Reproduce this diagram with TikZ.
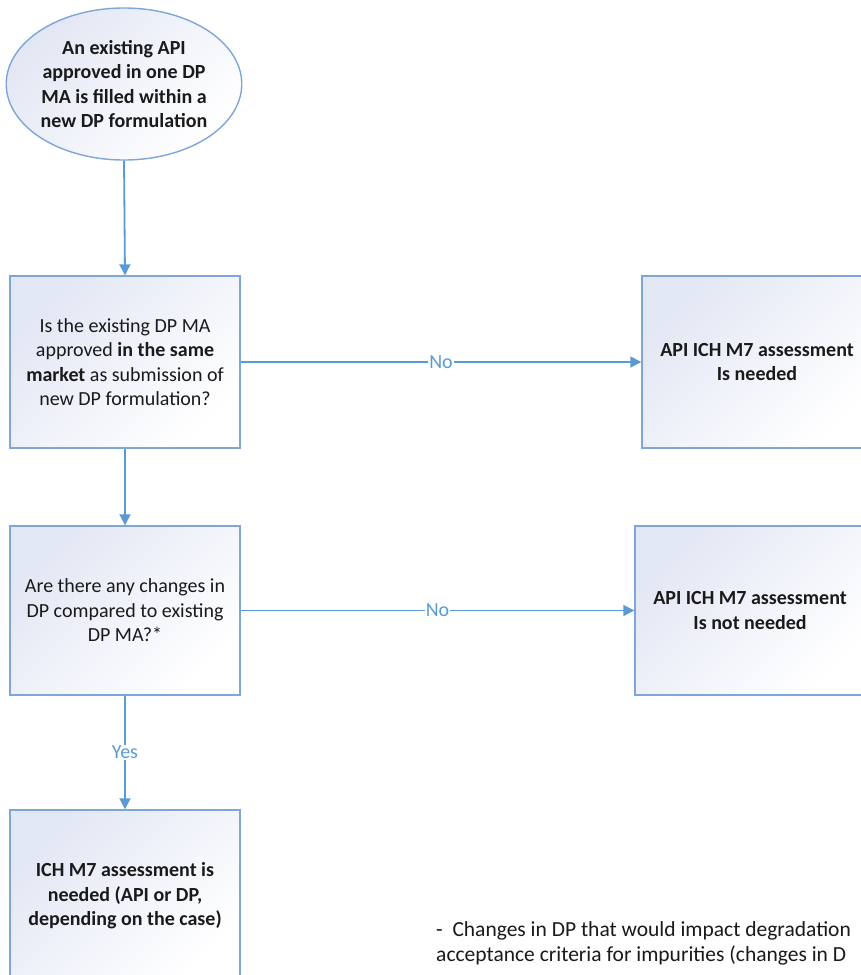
\documentclass[tikz,border=0pt]{standalone}
\usepackage{fontspec}
\setmainfont{Carlito}
\usetikzlibrary{arrows.meta,shapes.geometric}
\definecolor{lineblue}{HTML}{5B9BD5}
\definecolor{boxedge}{HTML}{7EA6D8}
\definecolor{boxfill}{HTML}{E2E7F4}
\definecolor{txt}{HTML}{1A1A1A}
\tikzset{
  flowbox/.style={draw=boxedge, line width=1.4pt, rectangle, minimum width=230pt,
    minimum height=172pt, align=center, inner sep=0pt, text=txt,
    font=\fontsize{20}{24.5}\selectfont,
    left color=boxfill, right color=white, shading angle=45},
  startell/.style={draw=boxedge, line width=1.4pt, ellipse, minimum width=230pt,
    minimum height=152pt, inner sep=0pt, align=center, text=txt,
    font=\bfseries\fontsize{20}{24.5}\selectfont,
    left color=boxfill, right color=white, shading angle=45},
  conn/.style={draw=lineblue, line width=1.8pt, -{Triangle[length=11pt,width=11pt]}},
  lbl/.style={fill=white, text=lineblue, inner sep=1pt, font=\fontsize{20}{22}\selectfont},
}
\begin{document}
\begin{tikzpicture}[x=1pt,y=-1pt]
\useasboundingbox (0,0) rectangle (861,975);
\clip (0,0) rectangle (861,975);
\fill[white] (0,0) rectangle (861,975);
\node[startell] (start) at (124,84) {An existing API\\approved in one DP\\MA is filled within a\\new DP formulation};
\node[flowbox] (q1) at (125,362) {Is the existing DP MA\\approved \textbf{in the same}\\\textbf{market} as submission of\\new DP formulation?};
\node[flowbox] (r1) at (757,362) {\textbf{API ICH M7 assessment}\\\textbf{Is needed}};
\node[flowbox, minimum height=169pt] (q2) at (125,610.5) {Are there any changes in\\DP compared to existing\\DP MA?*};
\node[flowbox, minimum height=169pt] (r2) at (750,610.5) {\textbf{API ICH M7 assessment}\\\textbf{Is not needed}};
\node[flowbox] (r3) at (125,896) {\textbf{ICH M7 assessment is}\\\textbf{needed (API or DP,}\\\textbf{depending on the case)}};
\node[anchor=north west, align=left, text=txt, inner sep=0pt, font=\fontsize{21.5}{25}\selectfont] (note) at (436,921) {-\ \ Changes in DP that would impact degradation\\acceptance criteria for impurities (changes in D};
\draw[conn] (start.south) -- (q1.north);
\draw[conn] (q1.south) -- (q2.north);
\draw[conn] (q1.east) -- node[lbl] {No} (r1.west);
\draw[conn] (q2.east) -- node[lbl] {No} (r2.west);
\draw[conn] (q2.south) -- node[lbl, pos=0.5] {Yes} (r3.north);
\end{tikzpicture}
\end{document}
